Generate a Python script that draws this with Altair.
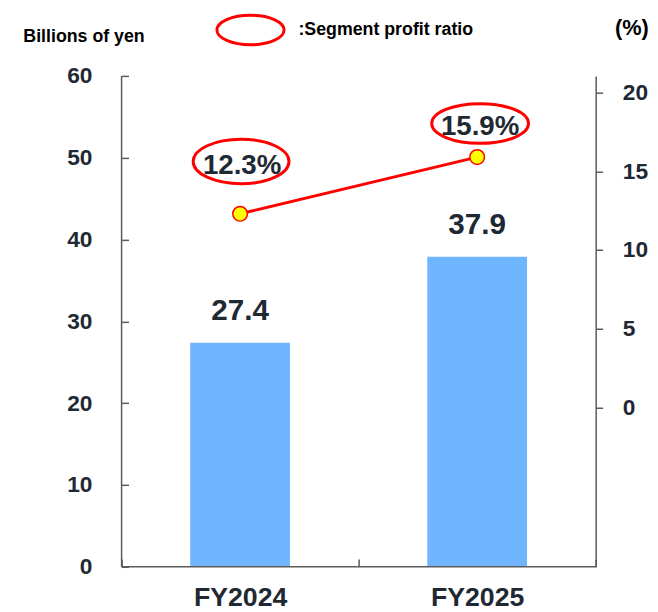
import altair as alt
import pandas as pd

years = ["FY2024", "FY2025"]
profit = [27.4, 37.9]
ratio = [12.3, 15.9]
series_name = "Segment profit ratio"
left_ticks = [0, 10, 20, 30, 40, 50, 60]
right_ticks = [0, 5, 10, 15, 20]

df = pd.DataFrame({"year": years, "profit": profit, "ratio": ratio,
                   "series": [series_name] * len(years)})
df["profit_label"] = df["profit"].map(lambda v: f"{v:.1f}")
df["ratio_label"] = df["ratio"].map(lambda v: f"{v:.1f}%")

FONT = "Liberation Sans"
AXIS_GRAY = "#5a5a5a"
TEXT_DARK = "#1f2933"
BAR_BLUE = "#70B6FF"
RED = "#FF0000"


def ellipse(ratio_hw):
    return (f"M -1 0 A 1 {ratio_hw} 0 1 1 1 0 "
            f"A 1 {ratio_hw} 0 1 1 -1 0 Z")


x_axis = alt.Axis(title=None, labelAngle=0, labelFont=FONT, labelFontSize=27,
                  labelFontWeight="bold", labelColor=TEXT_DARK, domain=False,
                  tickBand="extent", offset=-8, tickSize=8, tickColor=AXIS_GRAY,
                  tickWidth=1.5, labelPadding=18)
x_scale = alt.Scale(paddingInner=0, paddingOuter=0)
x_enc = alt.X("year:N", sort=years, scale=x_scale, axis=x_axis)

y_left_scale = alt.Scale(domain=[0, 60], nice=False, zero=True)
y_left_axis = alt.Axis(title="Billions of yen", titleAngle=0, titleAlign="left",
                       titleBaseline="alphabetic", titleX=-107, titleY=-35,
                       titleFont=FONT, titleFontSize=18, titleFontWeight="bold",
                       titleColor="#000000", values=left_ticks, labelFont=FONT,
                       labelFontSize=23, labelFontWeight="bold", labelColor=TEXT_DARK,
                       labelPadding=30, domain=False, offset=-7, tickSize=7,
                       tickColor=AXIS_GRAY, tickWidth=1.5, grid=False)
y_left = alt.Y("profit:Q", scale=y_left_scale, axis=y_left_axis)

y_right = alt.Y(
    "ratio:Q",
    scale=alt.Scale(domain=[-10.1, 21.05], nice=False, zero=False),
    axis=alt.Axis(orient="right", title="(%)", titleAngle=0, titleAlign="left",
                  titleBaseline="alphabetic", titleX=19, titleY=-42,
                  titleFont=FONT, titleFontSize=22, titleFontWeight="bold",
                  titleColor="#000000", values=right_ticks, labelFont=FONT,
                  labelFontSize=23, labelFontWeight="bold", labelColor=TEXT_DARK,
                  labelPadding=20, domain=True, domainColor=AXIS_GRAY,
                  domainWidth=1.5, tickSize=7, tickColor=AXIS_GRAY, tickWidth=1.5,
                  grid=False),
)

base = alt.Chart(df)

bars = base.mark_bar(size=101, color=BAR_BLUE).encode(x=x_enc, y=y_left)
bar_text = base.mark_text(dy=-23, baseline="alphabetic", font=FONT, fontSize=30,
                          fontWeight="bold", color=TEXT_DARK).encode(
    x=x_enc, y=y_left, text="profit_label:N")
left_domain = alt.Chart(df.head(1)).mark_rule(color=AXIS_GRAY, strokeWidth=1.5).encode(
    x=alt.X(datum=years[0], type="nominal", bandPosition=0, scale=x_scale, axis=x_axis))
bottom_domain = alt.Chart(df.head(1)).mark_rule(color=AXIS_GRAY, strokeWidth=1.5).encode(
    y=alt.Y(datum=0, type="quantitative", scale=y_left_scale, axis=y_left_axis))

left = alt.layer(bars, bar_text, left_domain, bottom_domain)

stroke_enc = alt.Stroke(
    "series:N",
    scale=alt.Scale(domain=[series_name], range=[RED]),
    legend=alt.Legend(title=None, orient="none", legendX=95, legendY=-82,
                      symbolType=ellipse(0.44), symbolSize=4624,
                      symbolStrokeWidth=3, symbolFillColor="transparent",
                      symbolStrokeColor=RED, labelExpr="':' + datum.label",
                      labelFont=FONT, labelFontSize=18, labelFontWeight="bold",
                      labelColor="#000000", labelOffset=13, padding=0,
                      labelLimit=400),
)

line = base.mark_line(color=RED, strokeWidth=3).encode(x=x_enc, y=y_right)
dots = base.mark_circle(size=220, color="#FFFF00", opacity=1, stroke=RED,
                        strokeWidth=1.5).encode(x=x_enc, y=y_right)


def label_layers(year, ratio_hw, size, xoff, yoff, dx, dy):
    sub = base.transform_filter(alt.datum.year == year)
    ell = sub.mark_point(shape=ellipse(ratio_hw), size=size, filled=False,
                         strokeWidth=3, opacity=1, xOffset=xoff,
                         yOffset=yoff).encode(x=x_enc, y=y_right, stroke=stroke_enc)
    txt = sub.mark_text(dx=dx, dy=dy, baseline="alphabetic", font=FONT,
                        fontSize=28, fontWeight="bold", color=TEXT_DARK).encode(
        x=x_enc, y=y_right, text="ratio_label:N")
    return [ell, txt]


right = alt.layer(
    line, dots,
    *label_layers("FY2024", 0.464, 9409, 1, -53, 2, -40),
    *label_layers("FY2025", 0.41, 9604, 3, -34, 3, -22),
)

chart = alt.layer(left, right).resolve_scale(y="independent").properties(
    width=480, height=497,
    autosize=alt.AutoSizeParams(type="none"),
    padding={"left": 115, "top": 65, "right": 55, "bottom": 42},
).configure_view(stroke=None)

chart.save("out.html", embed_options={"renderer": "svg", "actions": False})
